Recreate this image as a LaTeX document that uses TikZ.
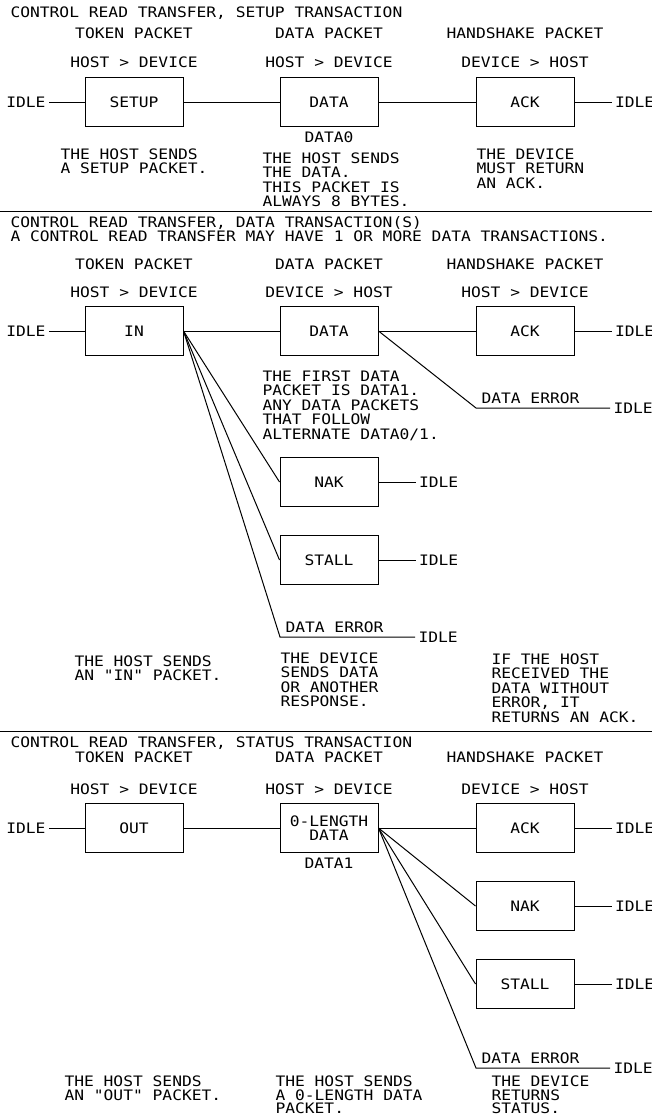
\documentclass[tikz,border=0pt]{standalone}
\usepackage{fontspec}
\newfontfamily\plotter[FakeStretch=1.13]{DejaVu Sans Mono}
\usetikzlibrary{positioning}

\begin{document}
\begin{tikzpicture}[x=1pt,y=-1pt,line width=1pt,
  every node/.style={inner sep=0pt,font=\plotter\fontsize{14.4}{14.5}\selectfont},
  pkt/.style={draw,minimum width=98pt,minimum height=49pt},
  idle/.style={inner xsep=3pt},
  lbl/.style={anchor=base},
  ttl/.style={anchor=base west},
  note/.style={anchor=north west,align=left}]
  \useasboundingbox (0,0) rectangle (652,1118);

  \node[ttl] (title1) at (10,18) {CONTROL READ TRANSFER, SETUP TRANSACTION};
  \node[lbl] (tok1) at (134,39) {TOKEN PACKET};
  \node[lbl] (dpk1) at (329,39) {DATA PACKET};
  \node[lbl] (hsk1) at (525,39) {HANDSHAKE PACKET};
  \node[lbl] (dirA1) at (134,68) {HOST > DEVICE};
  \node[lbl] (dirB1) at (329,68) {HOST > DEVICE};
  \node[lbl] (dirC1) at (525,68) {DEVICE > HOST};
  \node[pkt] (setup) at (134,102.5) {SETUP};
  \node[pkt] (data1) at (329,102.5) {DATA};
  \node[pkt] (ack1) at (525,102.5) {ACK};
  \node[below=4pt of data1] (pid1) {DATA0};
  \node[idle,anchor=east] (idleL1) at (49,102.5) {IDLE};
  \node[idle,right=37pt of ack1] (idleR1) {IDLE};
  \draw (idleL1) -- (setup) -- (data1) -- (ack1) -- (idleR1);
  \node[note] (noteA1) at (60,148) {THE HOST SENDS\\A SETUP PACKET.};
  \node[note] (noteB1) at (262,152) {THE HOST SENDS\\THE DATA.\\THIS PACKET IS\\ALWAYS 8 BYTES.};
  \node[note] (noteC1) at (476,148) {THE DEVICE\\MUST RETURN\\AN ACK.};

  \draw (0,211) -- (652,211);

  \node[ttl] (title2) at (10,227) {CONTROL READ TRANSFER, DATA TRANSACTION(S)};
  \node[ttl] (sub2) at (10,241) {A CONTROL READ TRANSFER MAY HAVE 1 OR MORE DATA TRANSACTIONS.};
  \node[lbl] (tok2) at (134,269) {TOKEN PACKET};
  \node[lbl] (dpk2) at (329,269) {DATA PACKET};
  \node[lbl] (hsk2) at (525,269) {HANDSHAKE PACKET};
  \node[lbl] (dirA2) at (134,297) {HOST > DEVICE};
  \node[lbl] (dirB2) at (329,297) {DEVICE > HOST};
  \node[lbl] (dirC2) at (525,297) {HOST > DEVICE};
  \node[pkt] (inpkt) at (134,331) {IN};
  \node[pkt] (data2) at (329,331) {DATA};
  \node[pkt] (ack2) at (525,331) {ACK};
  \node[pkt] (nak2) at (329,482) {NAK};
  \node[pkt] (stall2) at (329,560) {STALL};
  \node[idle,anchor=east] (idleL2) at (49,331) {IDLE};
  \node[idle,right=37pt of ack2] (idleR2) {IDLE};
  \node[idle,right=37pt of nak2] (idleN2) {IDLE};
  \node[idle,right=37pt of stall2] (idleS2) {IDLE};
  \coordinate (errA2) at (476,408);
  \coordinate (errB2) at (280,637);
  \node[idle,anchor=west] (idleEA2) at (610,408) {IDLE};
  \node[idle,anchor=west] (idleEB2) at (415,637) {IDLE};
  \node[ttl] (errlblA2) at (481,403) {DATA ERROR};
  \node[ttl] (errlblB2) at (285,632) {DATA ERROR};
  \draw (idleL2) -- (inpkt) -- (data2) -- (ack2) -- (idleR2);
  \draw (data2.east) -- (errA2) -- (idleEA2);
  \draw (inpkt.east) -- (nak2.west);
  \draw (inpkt.east) -- (stall2.west);
  \draw (inpkt.east) -- (errB2) -- (idleEB2);
  \draw (nak2) -- (idleN2);
  \draw (stall2) -- (idleS2);
  \node[note] (noteB2) at (262,370) {THE FIRST DATA\\PACKET IS DATA1.\\ANY DATA PACKETS\\THAT FOLLOW\\ALTERNATE DATA0/1.};
  \node[note] (noteA2) at (74,655) {THE HOST SENDS\\AN "IN" PACKET.};
  \node[note] (noteC2) at (280,652) {THE DEVICE\\SENDS DATA\\OR ANOTHER\\RESPONSE.};
  \node[note] (noteD2) at (491,653) {IF THE HOST\\RECEIVED THE\\DATA WITHOUT\\ERROR, IT\\RETURNS AN ACK.};

  \draw (0,731) -- (652,731);

  \node[ttl] (title3) at (10,747) {CONTROL READ TRANSFER, STATUS TRANSACTION};
  \node[lbl] (tok3) at (134,762) {TOKEN PACKET};
  \node[lbl] (dpk3) at (329,762) {DATA PACKET};
  \node[lbl] (hsk3) at (525,762) {HANDSHAKE PACKET};
  \node[lbl] (dirA3) at (134,794) {HOST > DEVICE};
  \node[lbl] (dirB3) at (329,794) {HOST > DEVICE};
  \node[lbl] (dirC3) at (525,794) {DEVICE > HOST};
  \node[pkt] (outpkt) at (134,828) {OUT};
  \node[pkt,align=center] (zdata) at (329,828) {0-LENGTH\\DATA};
  \node[pkt] (ack3) at (525,828) {ACK};
  \node[pkt] (nak3) at (525,906) {NAK};
  \node[pkt] (stall3) at (525,984) {STALL};
  \node[below=4pt of zdata] (pid3) {DATA1};
  \node[idle,anchor=east] (idleL3) at (49,828) {IDLE};
  \node[idle,right=37pt of ack3] (idleR3) {IDLE};
  \node[idle,right=37pt of nak3] (idleN3) {IDLE};
  \node[idle,right=37pt of stall3] (idleS3) {IDLE};
  \coordinate (errC3) at (476,1068);
  \node[idle,anchor=west] (idleE3) at (610,1068) {IDLE};
  \node[ttl] (errlbl3) at (481,1063) {DATA ERROR};
  \draw (idleL3) -- (outpkt) -- (zdata) -- (ack3) -- (idleR3);
  \draw (zdata.east) -- (nak3.west);
  \draw (zdata.east) -- (stall3.west);
  \draw (zdata.east) -- (errC3) -- (idleE3);
  \draw (nak3) -- (idleN3);
  \draw (stall3) -- (idleS3);
  \node[note,font=\plotter\fontsize{14.4}{13.8}\selectfont] (noteA3) at (64,1075) {THE HOST SENDS\\AN "OUT" PACKET.};
  \node[note,font=\plotter\fontsize{14.4}{13.8}\selectfont] (noteB3) at (275,1075) {THE HOST SENDS\\A 0-LENGTH DATA\\PACKET.};
  \node[note,font=\plotter\fontsize{14.4}{13.8}\selectfont] (noteC3) at (491,1075) {THE DEVICE\\RETURNS\\STATUS.};
\end{tikzpicture}
\end{document}
